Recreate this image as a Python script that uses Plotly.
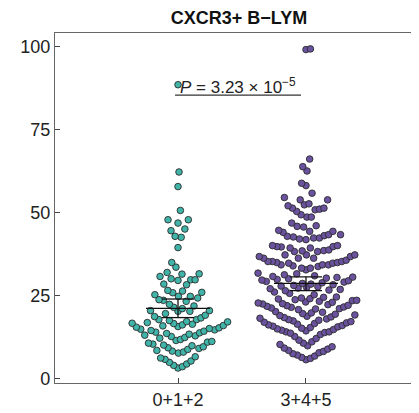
import numpy as np
import plotly.graph_objects as go

# ---------------- data ----------------
groups = ["0+1+2", "3+4+5"]
group_pos = [1, 2]

teal_values = [
    3.1, 3.5, 3.9, 4.3, 4.8, 5.2, 5.7, 6.1, 6.5,
    7.6, 7.9, 8.2, 8.4, 8.7, 9.0, 9.2, 9.5, 9.8, 10.0, 10.3, 10.6, 10.9, 11.1, 11.4, 11.7,
    12.1, 12.3, 12.6, 12.8, 13.0, 13.3, 13.5, 13.7, 13.9, 14.2, 14.4, 14.6, 14.8, 15.0,
    15.2, 15.4, 15.6, 15.8, 15.9, 16.1, 16.3, 16.5, 16.6, 16.8,
    17.0, 17.1, 17.4, 17.7, 17.7, 18.2, 18.6, 19.0, 19.5, 20.2, 20.2, 20.4, 20.4, 21.0,
    21.4, 21.8, 22.3,
    23.2, 23.5, 23.7, 24.2, 24.7, 24.7, 25.2, 25.8, 25.9, 26.3, 26.5,
    28.2, 28.4, 29.5, 29.7, 29.7, 30.0, 30.7, 31.4, 31.5, 31.9, 33.5, 34.9,
    39.4, 42.5, 42.8, 44.5, 45.0, 46.8, 47.8, 47.8, 50.6, 57.8, 62.2, 88.5,
]

purple_values = [
    5.6, 6.0, 6.3, 6.7, 7.0, 7.4, 7.7, 8.1, 8.4, 8.8, 9.1, 9.5, 9.8, 10.2, 10.6, 11.0,
    11.5, 12.0, 12.6, 13.2, 14.0,
    13.6, 13.8, 14.0, 14.3, 14.5, 14.7, 14.9, 15.1, 15.3, 15.5, 15.7, 15.9, 16.1, 16.3,
    16.5, 16.7, 16.9, 17.1, 17.3, 17.5, 17.7, 17.9, 18.1, 18.3, 18.5, 18.7, 18.9, 19.1,
    19.3, 19.5, 19.7, 19.9, 20.1,
    20.7, 20.9, 21.0, 21.2, 21.4, 21.5, 21.7, 21.9, 22.0, 22.2, 22.4, 22.5, 22.7, 22.9,
    23.0, 23.2, 23.4, 23.5, 23.7, 23.9, 24.0, 24.2, 24.4, 24.5,
    25.2, 25.6, 26.0, 26.4, 26.6, 26.8, 27.0, 27.2, 27.4, 27.6, 27.8, 28.0, 28.2, 28.4,
    28.6, 28.8, 29.0, 29.2, 29.4, 29.6, 29.8, 30.0, 30.2, 30.4, 30.5, 30.7, 30.9, 31.2,
    31.5, 31.7,
    32.7, 33.2, 33.2, 33.7, 33.9, 34.2, 34.2, 34.2, 34.7, 34.7, 34.9, 34.9, 35.2, 35.2,
    35.2, 35.6, 36.2, 36.2, 36.2, 36.7,
    36.7, 37.2, 37.2, 37.2, 38.2, 38.2, 38.4, 38.5, 38.7, 39.3, 39.3, 39.6, 39.7, 39.7,
    40.0, 40.0,
    41.8, 42.0, 42.3, 42.3, 42.6, 42.8, 43.0, 43.3, 43.3, 44.0, 44.3, 44.3, 44.6, 45.6,
    45.8, 46.0, 46.8,
    48.6, 48.6, 49.3, 50.3, 50.8, 51.0, 51.3, 51.3, 52.0, 52.3, 52.6, 53.8, 53.8, 54.5,
    55.8,
    58.1, 58.8, 62.5, 63.8, 66.1,
    99.1, 99.3,
]

group_means = [21.1, 28.6]
ci_low = [18.3, 26.4]
ci_high = [23.9, 30.6]

y_ticks = [0, 25, 50, 75, 100]
title_text = "CXCR3+ B\u2212LYM"
p_label = "<i>P</i> = 3.23 \u00d7 10<sup>\u22125</sup>"

# ---------------- layout geometry ----------------
# the page body keeps its default 8px margin, so the figure is sized to fit the window
W, H = 411, 405
M_L, M_R, M_T, M_B = 47, 0, 25, 30
X_RANGE = [0.039, 2.883]
Y_RANGE = [-1.42, 104.1]
plot_w = W - M_L - M_R
plot_h = H - M_T - M_B
px_per_x = plot_w / (X_RANGE[1] - X_RANGE[0])
px_per_y = plot_h / (Y_RANGE[1] - Y_RANGE[0])


def swarm_offsets(values, ax_px=4.4, ay_px=15.0):
    """beeswarm 'swarm' placement (ascending priority), returns x offsets in data units"""
    vals = np.asarray(values, dtype=float)
    yn = vals * px_per_y / ay_px
    order = np.argsort(vals, kind="stable")
    placed_y, placed_x = [], []
    out = np.zeros(len(vals))
    for idx in order:
        y = yn[idx]
        py = np.array(placed_y)
        pxs = np.array(placed_x)
        cands = [0.0]
        if len(py):
            near = np.abs(y - py) < 1
            off = np.sqrt(1 - (y - py[near]) ** 2)
            cands += list(pxs[near] + off) + list(pxs[near] - off)
        best = None
        for c in sorted(cands, key=abs):
            if len(py) == 0 or np.all((c - pxs) ** 2 + (y - py) ** 2 >= 0.999):
                best = c
                break
        out[idx] = best
        placed_y.append(y)
        placed_x.append(best)
    return out * ax_px / px_per_x


fig = go.Figure()

colors = ["#40B4A8", "#6A529F"]
for g, vals, col in zip(group_pos, [teal_values, purple_values], colors):
    offs = swarm_offsets(vals)
    fig.add_trace(go.Scatter(
        x=g + offs, y=vals, mode="markers",
        marker=dict(size=6.6, color=col, line=dict(color="#2b2b2b", width=0.9)),
        showlegend=False, hoverinfo="y",
    ))

# mean + CI bars
half_long = 32 / px_per_x
half_cap = 16 / px_per_x
for g, m, lo, hi in zip(group_pos, group_means, ci_low, ci_high):
    xs = [g - half_long, g + half_long, None, g, g, None,
          g - half_cap, g + half_cap, None, g - half_cap, g + half_cap]
    ys = [m, m, None, lo, hi, None, lo, lo, None, hi, hi]
    fig.add_trace(go.Scatter(x=xs, y=ys, mode="lines",
                             line=dict(color="#111111", width=1.3),
                             showlegend=False, hoverinfo="skip"))

# p-value annotation with underline
p_left, p_right, p_line_y, p_text_y = 0.977, 1.961, 85.4, 88.2
fig.add_shape(type="line", x0=p_left, x1=p_right, y0=p_line_y, y1=p_line_y,
              line=dict(color="#333333", width=1.3))
fig.add_annotation(x=(p_left + p_right) / 2, y=p_text_y, text=p_label, showarrow=False,
                   font=dict(family="Liberation Sans, Arial", size=17, color="#222222"),
                   xanchor="center", yanchor="middle")

fig.update_layout(
    width=W, height=H,
    margin=dict(l=M_L, r=M_R, t=M_T, b=M_B),
    paper_bgcolor="white", plot_bgcolor="white",
    title=dict(text="<b>" + title_text + "</b>", x=(231 - M_L) / plot_w, xref="paper",
               xanchor="center", y=1 - 10 / H, yref="container", yanchor="middle",
               font=dict(family="Liberation Sans, Arial", size=18, color="#111111")),
    font=dict(family="Liberation Sans, Arial", size=18, color="#222222"),
)
fig.update_xaxes(range=X_RANGE, tickvals=group_pos, ticktext=groups,
                 showline=True, linecolor="#666666", linewidth=1.3, mirror=True,
                 ticks="inside", ticklen=5, tickcolor="#444444", showgrid=False,
                 zeroline=False, tickfont=dict(size=18, color="#222222"))
fig.update_yaxes(range=Y_RANGE, tickvals=y_ticks,
                 showline=True, linecolor="#666666", linewidth=1.3,
                 ticks="inside", ticklen=5, tickcolor="#444444", showgrid=False,
                 zeroline=False, tickfont=dict(size=18, color="#222222"))

fig.write_html("out.html")
